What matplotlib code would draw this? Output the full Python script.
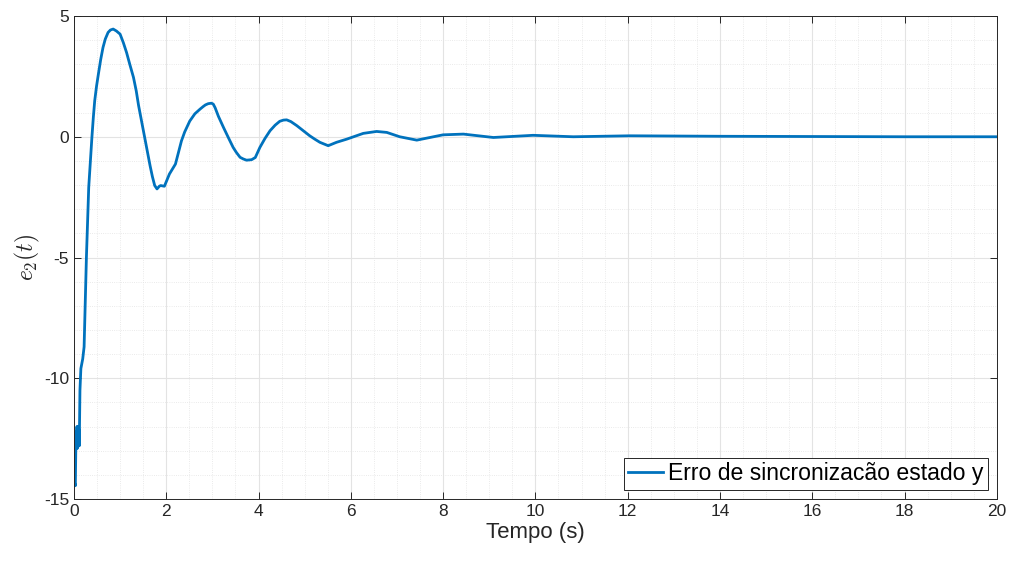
import matplotlib
matplotlib.use('Agg')
import matplotlib.pyplot as plt
from matplotlib.ticker import MultipleLocator

# synchronisation error of state y
tempo = [0, 0.01, 0.03, 0.045, 0.055, 0.065, 0.075, 0.085, 0.095, 0.105, 0.115,
         0.13, 0.15, 0.19, 0.22, 0.27, 0.32, 0.39, 0.42, 0.45, 0.49, 0.53, 0.58,
         0.63, 0.68, 0.74, 0.79, 0.85, 0.92, 1.0, 1.07, 1.14, 1.21, 1.29, 1.35,
         1.4, 1.53, 1.65, 1.7, 1.75, 1.8, 1.85, 1.88, 1.96, 2.07, 2.2, 2.33, 2.4,
         2.51, 2.62, 2.73, 2.8, 2.85, 2.91, 2.98, 3.02, 3.06, 3.13, 3.24, 3.35,
         3.45, 3.52, 3.6, 3.67, 3.74, 3.85, 3.93, 4.03, 4.14, 4.25, 4.36, 4.46,
         4.54, 4.61, 4.7, 4.83, 4.97, 5.11, 5.22, 5.33, 5.51, 5.69, 5.91, 6.27,
         6.56, 6.78, 7.06, 7.43, 8.0, 8.44, 9.09, 9.95, 10.82, 12.05, 14, 16,
         18, 20]
erro_y = [-14.1, -14.3, -14.45, -12.2, -12.9, -12.0, -12.9, -12.0, -12.8, -12.1,
          -12.8, -10.5, -9.6, -9.2, -8.7, -5.0, -2.1, 0.0, 0.8, 1.49, 2.1, 2.6,
          3.2, 3.7, 4.05, 4.32, 4.42, 4.46, 4.38, 4.25, 3.9, 3.49, 3.0, 2.46,
          1.9, 1.3, 0.0, -1.2, -1.65, -2.02, -2.16, -2.05, -2.02, -2.05, -1.54,
          -1.13, -0.17, 0.2, 0.65, 0.95, 1.14, 1.25, 1.32, 1.37, 1.39, 1.35,
          1.2, 0.85, 0.39, -0.05, -0.44, -0.65, -0.85, -0.92, -0.97, -0.95,
          -0.86, -0.44, -0.07, 0.25, 0.48, 0.64, 0.69, 0.70, 0.63, 0.46, 0.25,
          0.04, -0.1, -0.23, -0.37, -0.23, -0.1, 0.14, 0.22, 0.18, 0.0, -0.14,
          0.08, 0.11, -0.03, 0.06, 0.0, 0.04, 0.02, 0.01, 0.0, 0.0]

plt.rcParams['font.family'] = ['Liberation Sans', 'DejaVu Sans']
plt.rcParams['mathtext.fontset'] = 'cm'
plt.rcParams['axes.unicode_minus'] = False

fig = plt.figure(figsize=(10.13, 5.66), dpi=100)
ax = fig.add_axes([0.073, 0.1184, 0.911, 0.8533])

ax.plot(tempo, erro_y, color='#0072BD', lw=2.0, label='Erro de sincronizacão estado y')

ax.set_xlim(0, 20)
ax.set_ylim(-15, 5)
ax.xaxis.set_major_locator(MultipleLocator(2))
ax.xaxis.set_minor_locator(MultipleLocator(0.5))
ax.yaxis.set_major_locator(MultipleLocator(5))
ax.yaxis.set_minor_locator(MultipleLocator(1))

ax.grid(which='major', color='#e3e3e3', lw=0.8)
ax.grid(which='minor', color='#e3e3e3', lw=0.6, ls=':')
ax.set_axisbelow(True)

for s in ax.spines.values():
    s.set_color('#262626')
    s.set_linewidth(0.7)
ax.tick_params(which='both', direction='in', top=True, right=True,
               colors='#262626', labelsize=12.5, width=0.7)
ax.tick_params(which='major', length=5)
ax.tick_params(which='minor', length=0)

ax.set_xlabel('Tempo (s)', fontsize=16, color='#262626', labelpad=2)
ax.set_ylabel('$e_2(t)$', fontsize=17, color='#262626', labelpad=1)

leg = ax.legend(loc='lower right', fontsize=16.6, handlelength=1.5,
                handletextpad=0.2, borderpad=0.2, borderaxespad=0.4,
                fancybox=False, framealpha=1)
leg.get_frame().set_edgecolor('#262626')
leg.get_frame().set_linewidth(0.7)

fig.savefig('out.png', dpi=100)
